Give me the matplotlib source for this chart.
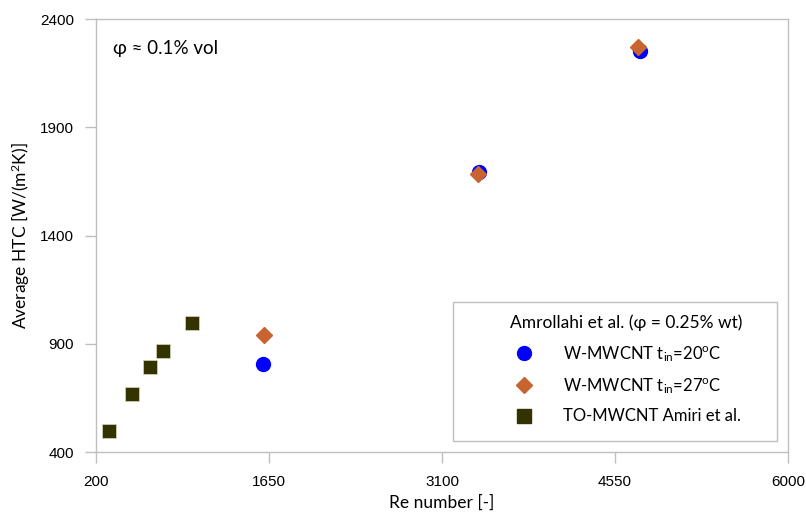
import matplotlib
matplotlib.use("Agg")
import matplotlib.pyplot as plt
from matplotlib.lines import Line2D
from matplotlib.patches import Rectangle

# Data
re_amiri = [304, 502, 653, 756, 1005]
htc_amiri = [500, 668, 792, 866, 997]
re_20 = [1595, 3408, 4763]
htc_20 = [806, 1693, 2252]
re_27 = [1606, 3400, 4746]
htc_27 = [940, 1684, 2270]
x_ticks = [200, 1650, 3100, 4550, 6000]
y_ticks = [400, 900, 1400, 1900, 2400]

plt.rcParams['mathtext.fontset'] = 'custom'
plt.rcParams['mathtext.rm'] = 'Lato'
plt.rcParams['mathtext.it'] = 'Lato:italic'

fig = plt.figure(figsize=(8.06, 5.14), dpi=100)
ax = fig.add_axes([0.1195, 0.120, 0.858, 0.843])

c_sq = '#333300'
c_circ = '#0000FF'
c_dia = '#C8642F'

ax.plot(re_amiri, htc_amiri, linestyle='none', marker='s', markersize=9.5,
        color=c_sq, markeredgecolor='#d8d8c0', markeredgewidth=0.5, zorder=3)
ax.plot(re_20, htc_20, linestyle='none', marker='o', markersize=10,
        color=c_circ, zorder=3)
ax.plot(re_27, htc_27, linestyle='none', marker='D', markersize=8,
        color=c_dia, zorder=4)

ax.set_xlim(200, 6000)
ax.set_ylim(400, 2400)
ax.set_xticks(x_ticks)
ax.set_yticks(y_ticks)
for s in ax.spines.values():
    s.set_color('#BFBFBF')
    s.set_linewidth(1)
ax.tick_params(axis='both', length=8, width=1, color='#BFBFBF',
               labelsize=11, pad=8, labelcolor='#000000')
for lab in ax.get_xticklabels() + ax.get_yticklabels():
    lab.set_fontfamily('Liberation Sans')

ax.set_xlabel('Re number [-]', fontsize=12.5, family='Lato', labelpad=4)
ax.set_ylabel('Average HTC [W/(m$^2$K)]', fontsize=12.5, family='Lato', labelpad=6)

ax.text(0.024, 0.933, 'φ ≈ 0.1% vol', transform=ax.transAxes, fontsize=13.5,
        family=['Lato', 'DejaVu Sans'], va='center', ha='left')

# legend frame
ax.add_patch(Rectangle((0.516, 0.026), 0.468, 0.321, transform=ax.transAxes,
                       facecolor='white', edgecolor='#BFBFBF', linewidth=1,
                       zorder=5))

handles = [
    Line2D([], [], linestyle='none', marker='o', markersize=10, color=c_circ),
    Line2D([], [], linestyle='none', marker='D', markersize=8, color=c_dia),
    Line2D([], [], linestyle='none', marker='s', markersize=9.5, color=c_sq),
]
labels = ['W-MWCNT t$_{\\rm in}$=20$^{\\rm o}$C',
          'W-MWCNT t$_{\\rm in}$=27$^{\\rm o}$C',
          'TO-MWCNT Amiri et al.']
leg = ax.legend(handles, labels, title='Amrollahi et al. (φ = 0.25% wt)',
                loc='lower right', bbox_to_anchor=(0.958, 0.026),
                prop={'family': ['Lato', 'DejaVu Sans'], 'size': 12},
                title_fontproperties={'family': ['Lato', 'DejaVu Sans'], 'size': 12.5},
                frameon=False, borderpad=1.0, labelspacing=0.75,
                handletextpad=1.6, borderaxespad=0, handlelength=1.5)
leg.set_zorder(6)

fig.savefig('out.png', dpi=100)
